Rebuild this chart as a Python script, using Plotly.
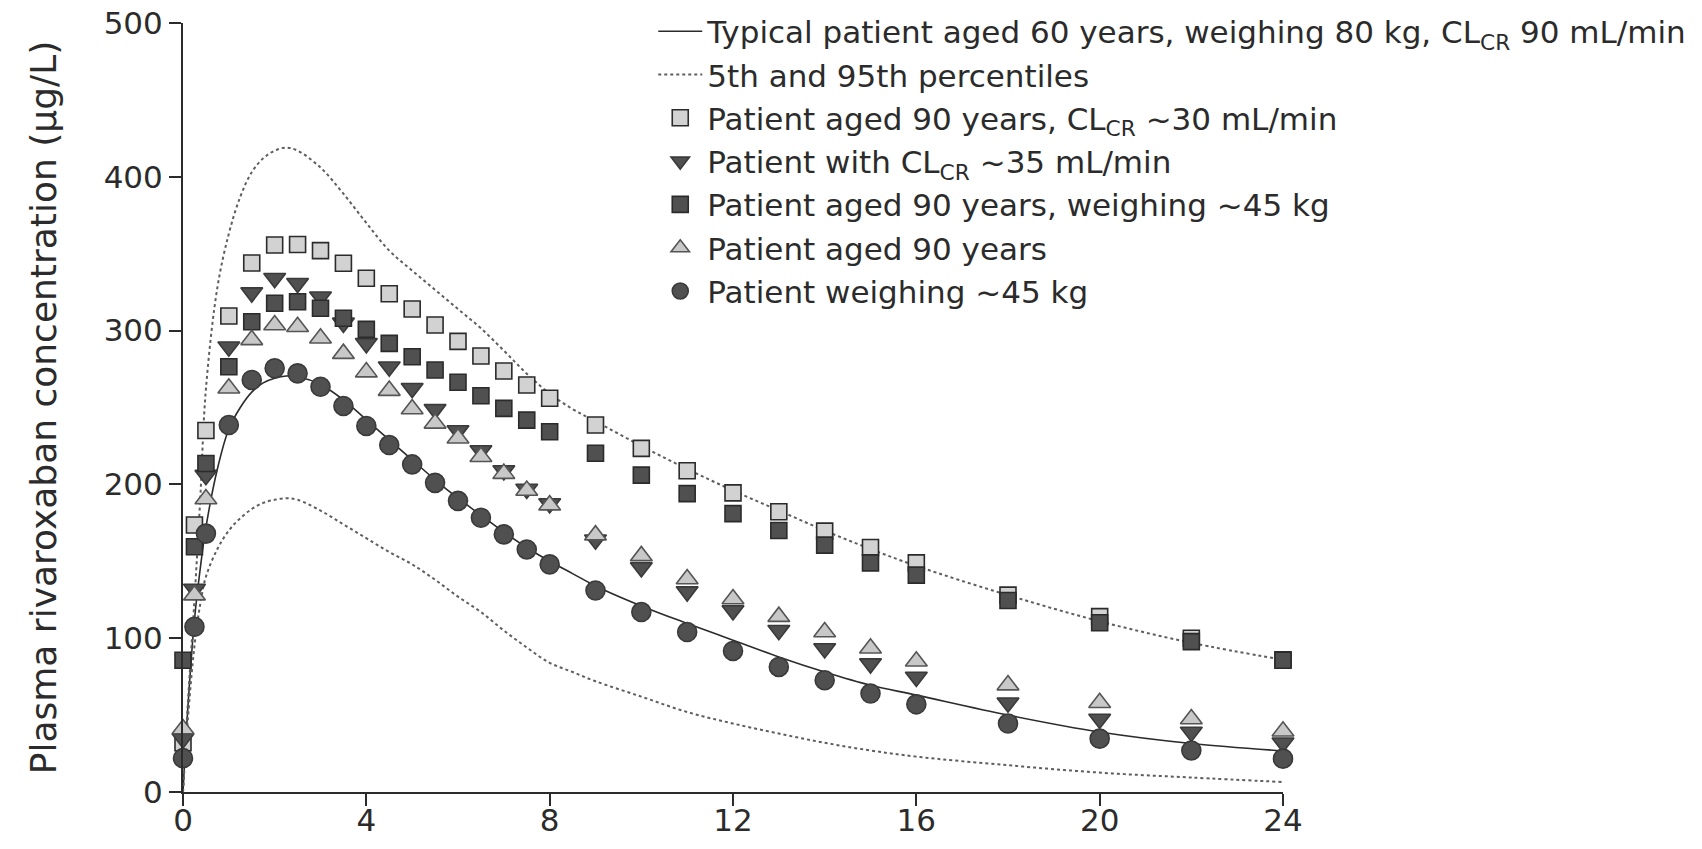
import plotly.graph_objects as go

# ---------------- data ----------------
TIME = [0, 0.25, 0.5, 1, 1.5, 2, 2.5, 3, 3.5, 4, 4.5, 5, 5.5, 6, 6.5, 7, 7.5, 8,
        9, 10, 11, 12, 13, 14, 15, 16, 18, 20, 22, 24]

aged90_clcr30 = [32, 173.6, 235, 309.5, 344, 355.7, 356, 352, 343.8, 334, 324, 314,
                 303.6, 293, 283.5, 273.7, 264.6, 256, 238.6, 223.4, 208.9, 194.5,
                 182.2, 169.6, 159, 149, 128, 114, 100, 86]
clcr35 = [34.7, 132, 206, 289.5, 324.7, 334, 330.8, 322, 305, 291.7, 276.5, 262.5,
          248.8, 235, 222, 209, 197, 187.6, 164, 146, 130.3, 118, 105.2, 93.3, 83.5,
          74.8, 58, 47.5, 39, 32]
aged90_45kg = [85.7, 159.5, 213.6, 276.5, 305.8, 317.8, 318.8, 314.5, 308, 300.8,
               291.7, 283, 274.4, 266.4, 257.6, 249.4, 241.8, 234.2, 220.3, 206, 194,
               181, 170, 160.5, 149, 141, 124.5, 110, 97.8, 85.7]
aged90 = [41, 128, 190.5, 262.5, 294, 303.6, 302.5, 295, 285, 273, 261, 249, 239.7,
          230, 218, 207, 196, 186.5, 167, 153.5, 138.5, 125.5, 114, 104, 93.5, 85,
          69.5, 58, 47.5, 39.5]
weigh45 = [22, 107.4, 168, 238.6, 267.9, 275.5, 272.2, 263.5, 251, 238, 225.6, 213,
           201, 189.3, 178.3, 167.5, 157.7, 148, 131, 117, 104, 91.7, 81.3, 72.7, 64,
           57, 44.5, 34.7, 27, 21.7]

CURVE_T = [0, 0.1, 0.25, 0.375, 0.5, 0.75, 1, 1.25, 1.5, 1.75, 2, 2.25, 2.5, 3, 3.5,
           4, 4.5, 5, 5.5, 6, 6.5, 7, 7.5, 8, 8.5, 9, 10, 11, 12, 13, 14, 15, 16, 18,
           20, 22, 24]
typical = [0, 52, 112, 145, 172, 210, 236, 250, 260, 266, 269, 270.5, 270, 265, 255,
           242, 229, 216, 203, 191, 180, 169, 159, 150, 142, 134, 121, 109.6, 98.7,
           87.8, 78, 69.4, 63, 50, 39, 31.5, 26.7]
p95 = [0, 55, 125, 190, 262, 328, 363, 387, 403, 412, 417, 419, 417, 406, 389, 370,
       352, 339, 326.5, 314, 301.5, 287, 272, 259, 249, 241, 225, 210, 196, 183, 170,
       158, 147, 128, 111, 97, 86]
p5 = [0, 45, 95, 122, 140, 158, 170, 178, 184, 188, 190, 191, 190, 183, 174, 165, 156,
      148, 138, 127, 117, 105, 94, 84, 78, 72, 62, 52, 44.5, 38, 32, 27, 23, 17.4,
      12.6, 9.4, 6.5]

X_TICKS = [0, 4, 8, 12, 16, 20, 24]
Y_TICKS = [0, 100, 200, 300, 400, 500]

FONT = "DejaVu Sans, Liberation Sans, Arial, sans-serif"
INK = "#2b2b2b"
DARK = "#505050"
LIGHT = "#d2d2d2"

fig = go.Figure()

fig.add_trace(go.Scatter(
    x=CURVE_T, y=typical, mode="lines", line=dict(color=INK, width=1.6, shape="spline"),
    name="Typical patient aged 60 years, weighing 80 kg, CL<sub>CR</sub> 90 mL/min",
    legendrank=1))
fig.add_trace(go.Scatter(
    x=CURVE_T + [None] + CURVE_T, y=p95 + [None] + p5, mode="lines",
    line=dict(color="#5e5e5e", width=2, dash="3px,3px", shape="spline"),
    name="5th and 95th percentiles", legendrank=2))

def marker_trace(y, symbol, fill, name, size, rank, outline=INK):
    return go.Scatter(
        x=TIME, y=y, mode="markers", name=name, legendrank=rank, cliponaxis=False,
        marker=dict(symbol=symbol, size=size, color=fill,
                    line=dict(color=outline, width=1.6)))

fig.add_trace(marker_trace(aged90_clcr30, "square", LIGHT,
                           "Patient aged 90 years, CL<sub>CR</sub> ~30 mL/min", 16, 3))
fig.add_trace(marker_trace(clcr35, "triangle-down", DARK,
                           "Patient with CL<sub>CR</sub> ~35 mL/min", 19, 4, outline="#3a3a3a"))
fig.add_trace(marker_trace(aged90_45kg, "square", DARK,
                           "Patient aged 90 years, weighing ~45 kg", 16, 5))
fig.add_trace(marker_trace(aged90, "triangle-up", "#c8c8c8",
                           "Patient aged 90 years", 19, 6, outline="#555555"))
fig.add_trace(marker_trace(weigh45, "circle", DARK,
                           "Patient weighing ~45 kg", 19, 7, outline="#3a3a3a"))

# The page adds an 8px body margin, so the figure is sized 16px smaller.
fig.update_layout(
    width=1686, height=833,
    margin=dict(l=175, r=411, t=15, b=49, autoexpand=False),
    paper_bgcolor="white", plot_bgcolor="white",
    font=dict(family=FONT, color=INK, size=31),
    showlegend=True,
    legend=dict(x=0.4275, y=1.024, xanchor="left", yanchor="top",
                font=dict(size=31, family=FONT, color=INK),
                bgcolor="rgba(0,0,0,0)", tracegroupgap=0,
                itemsizing="trace", itemwidth=44),
)
fig.update_xaxes(
    range=[0, 24], tickvals=X_TICKS, ticktext=[str(v) for v in X_TICKS],
    showline=True, linecolor=INK, linewidth=2, ticks="outside", ticklen=12,
    tickwidth=2, tickcolor=INK, showgrid=False, zeroline=False, automargin=False,
    ticklabelstandoff=-12, ticklabeloverflow="allow",
    tickfont=dict(size=31, family=FONT, color=INK))
fig.update_yaxes(
    range=[0, 500], tickvals=Y_TICKS, ticktext=[str(v) for v in Y_TICKS],
    showline=True, linecolor=INK, linewidth=2, ticks="outside", ticklen=12,
    tickwidth=2, tickcolor=INK, showgrid=False, zeroline=False, automargin=False,
    ticklabeloverflow="allow",
    tickfont=dict(size=31, family=FONT, color=INK),
    title=dict(text="Plasma rivaroxaban concentration (µg/L)\u00a0\u00a0\u00a0\u00a0",
               font=dict(size=36, family=FONT, color=INK), standoff=36))

fig.write_html("out.html")
